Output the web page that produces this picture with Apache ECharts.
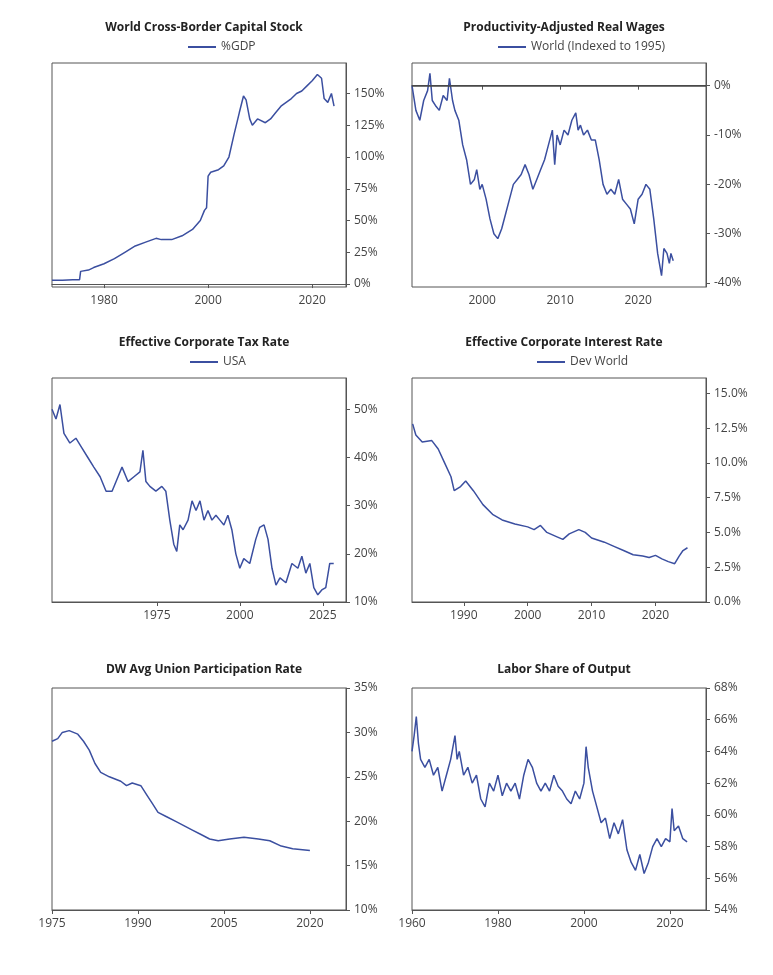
<!DOCTYPE html>
<html><head><meta charset="utf-8">
<script src="https://cdn.jsdelivr.net/npm/echarts@6/dist/echarts.min.js"></script>
<style>html,body{margin:0;background:#fff}#main{width:773px;height:975px}</style>
</head><body><div id="main"></div>
<script>
var capitalStock = [[1970,3],[1972,3],[1974,3.5],[1975.3,3.5],[1975.5,10],[1977,11],[1978,13],[1980,16],[1982,20],[1984,25],[1986,30],[1988,33],[1990,36],[1991,35],[1993,35],[1995,38],[1997,43],[1998.5,50],[1999.3,58],[1999.7,60],[2000,85],[2000.5,88],[2002,90],[2003,93],[2004,100],[2005,118],[2006,135],[2006.8,148],[2007.3,145],[2008,130],[2008.5,125],[2009.5,130],[2011,127],[2012,130],[2013,135],[2014,140],[2015,143],[2016,146],[2017,150],[2018,152],[2019,156],[2020,160],[2021,165],[2021.8,162],[2022.3,146],[2023,143],[2023.7,150],[2024.2,140]];
var realWages = [[1991,0],[1991.5,-5],[1992,-7],[1992.5,-3],[1993,-1],[1993.3,2.5],[1993.6,-3],[1994,-4],[1994.5,-5],[1995,-2],[1995.5,-3],[1995.8,1.5],[1996.2,-3],[1996.5,-5],[1997,-7],[1997.5,-12],[1998,-15],[1998.5,-20],[1999,-19],[1999.3,-17],[1999.7,-21],[2000,-20],[2000.5,-23],[2001,-27],[2001.5,-30],[2002,-31],[2002.5,-29],[2003,-26],[2003.5,-23],[2004,-20],[2004.5,-19],[2005,-18],[2005.5,-16],[2006,-18],[2006.5,-21],[2007,-19],[2007.5,-17],[2008,-15],[2008.5,-12],[2009,-9],[2009.3,-16],[2009.6,-10],[2010,-12],[2010.5,-9],[2011,-10],[2011.5,-7],[2012,-5.5],[2012.3,-9],[2012.6,-8],[2013,-10],[2013.5,-9],[2014,-11],[2014.5,-11],[2015,-15],[2015.5,-20],[2016,-22],[2016.5,-21],[2017,-22],[2017.5,-19],[2018,-23],[2018.5,-24],[2019,-25],[2019.5,-28],[2020,-23],[2020.5,-22],[2021,-20],[2021.5,-21],[2022,-27],[2022.5,-34],[2023,-38.5],[2023.3,-33],[2023.7,-34],[2024,-36],[2024.2,-34],[2024.5,-35.5]];
var taxRate = [[1943.4,50],[1944.6,48],[1945.8,51],[1947,45],[1948.8,43],[1950.6,44],[1952.4,42],[1954.2,40],[1956,38],[1957.9,36],[1959.7,33],[1961.5,33],[1963.3,36],[1964.5,38],[1966.3,35],[1968.1,36],[1969.9,37],[1970.8,41.5],[1971.7,35],[1972.9,34],[1974.7,33],[1976.5,34],[1977.7,33],[1978.9,27],[1980.1,22],[1981,20.5],[1981.9,26],[1982.9,25],[1984.4,27],[1985.6,31],[1986.8,29],[1988,31],[1989.2,27],[1990.4,29],[1991.6,27],[1992.8,28],[1994,27],[1995.2,26],[1996.4,28],[1997.6,25],[1998.8,20],[2000,17],[2001.2,19],[2003,18],[2004.8,23],[2006,25.5],[2007.3,26],[2008.5,23],[2009.7,17],[2010.9,13.5],[2012.1,15],[2013.9,14],[2015.7,18],[2017.5,17],[2018.7,19.5],[2019.9,16],[2021.1,18],[2022.3,13],[2023.5,11.5],[2024.7,12.5],[2025.9,13],[2027.1,18],[2028.3,18]];
var interestRate = [[1982,12.8],[1982.5,12],[1983.5,11.5],[1985,11.6],[1986,11],[1987,10],[1988,9],[1988.5,8],[1989.5,8.3],[1990.3,8.7],[1991.5,8],[1993,7],[1994.5,6.3],[1996,5.9],[1998,5.6],[2000,5.4],[2001,5.2],[2002,5.5],[2003,5],[2004.5,4.7],[2005.5,4.5],[2006.5,4.9],[2008,5.2],[2009,5],[2010,4.6],[2012,4.3],[2013.5,4],[2015,3.7],[2016.5,3.4],[2018,3.3],[2019,3.2],[2020,3.35],[2021,3.1],[2022,2.9],[2023,2.75],[2023.7,3.3],[2024.3,3.7],[2025,3.9]];
var unionRate = [[1975,29],[1976,29.3],[1976.8,30],[1978,30.2],[1979.5,29.8],[1980.5,29],[1981.5,28],[1982.5,26.5],[1983.5,25.5],[1985,25],[1987,24.5],[1988,24],[1989,24.3],[1990.5,24],[1991.5,23],[1992.5,22],[1993.5,21],[1995,20.5],[1996.5,20],[1998,19.5],[1999.5,19],[2001,18.5],[2002.5,18],[2004,17.8],[2006,18],[2008.5,18.2],[2011,18],[2013,17.8],[2015,17.2],[2017,16.9],[2020,16.7]];
var laborShare = [[1960,64],[1960.5,65],[1961,66.2],[1961.5,64.5],[1962,63.5],[1963,63],[1964,63.5],[1965,62.5],[1966,63],[1967,61.5],[1968,62.5],[1969,63.5],[1970,65],[1970.5,63.5],[1971,64],[1972,62.5],[1973,63],[1974,62],[1975,62.5],[1976,61],[1977,60.5],[1978,62],[1979,61.5],[1980,62.5],[1981,61.2],[1982,62],[1983,61.5],[1984,62],[1985,61],[1986,62.5],[1987,63.5],[1988,63],[1989,62],[1990,61.5],[1991,62],[1992,61.5],[1993,62.5],[1994,61.8],[1995,61.5],[1996,61],[1997,60.7],[1998,61.5],[1999,61],[2000,62],[2000.5,64.3],[2001,63],[2002,61.5],[2003,60.5],[2004,59.5],[2005,59.8],[2006,58.5],[2007,59.5],[2008,58.8],[2009,59.7],[2010,57.8],[2011,57],[2012,56.5],[2013,57.5],[2014,56.3],[2015,57],[2016,58],[2017,58.5],[2018,58],[2019,58.5],[2020,58.3],[2020.5,60.4],[2021,59],[2022,59.3],[2023,58.5],[2024,58.3]];

var panels = [
  {title:'World Cross-Border Capital Stock', name:'%GDP', data:capitalStock, x:[52,63], xr:[1970,2026.5], xt:[1980,2000,2020], yr:[-2.3,174], yt:[0,25,50,75,100,125,150], fmt:function(v){return v+'%';}, lg:183},
  {title:'Productivity-Adjusted Real Wages', name:'World (Indexed to 1995)', data:realWages, x:[412,63], xr:[1991,2028.7], xt:[2000,2010,2020], yr:[-40.8,4.6], yt:[-40,-30,-20,-10,0], fmt:function(v){return v+'%';}, lg:493, zero:true},
  {title:'Effective Corporate Tax Rate', name:'USA', data:taxRate, x:[52,378], xr:[1943.4,2032], xt:[1975,2000,2025], yr:[10,56.5], yt:[10,20,30,40,50], fmt:function(v){return v+'%';}, lg:185},
  {title:'Effective Corporate Interest Rate', name:'Dev World', data:interestRate, x:[412,378], xr:[1981.9,2027.9], xt:[1990,2000,2010,2020], yr:[0,16.1], yt:[0,2.5,5,7.5,10,12.5,15], fmt:function(v){return v.toFixed(1)+'%';}, lg:532},
  {title:'DW Avg Union Participation Rate', name:'union', data:unionRate, x:[52,688], xr:[1975,2026.3], xt:[1975,1990,2005,2020], yr:[10,35], yt:[10,15,20,25,30,35], fmt:function(v){return v+'%';}},
  {title:'Labor Share of Output', name:'labor', data:laborShare, x:[412,688], xr:[1960,2028.4], xt:[1960,1980,2000,2020], yr:[54,68], yt:[54,56,58,60,62,64,66,68], fmt:function(v){return v+'%';}}
];

var color = '#3b4fa0';
var grids = [], xAxes = [], yAxes = [], series = [], titles = [], legends = [];
panels.forEach(function (p, i) {
  var h = i < 4 ? 224 : 222;
  grids.push({left:p.x[0], top:p.x[1], width:294, height:h, show:true, borderColor:'#555', borderWidth:1});
  titles.push({text:p.title, left:p.x[0] + 147, top:p.x[1] - (i < 4 ? 46 : 29), textAlign:'center',
    textStyle:{fontFamily:'Open Sans', fontSize:12, fontWeight:'bold', color:'#222'}});
  if (i < 4) {
    legends.push({data:[p.name], left:p.lg, top:p.x[1] - 27, itemWidth:28, itemHeight:2, itemGap:4, icon:'rect',
      textStyle:{fontFamily:'Open Sans', fontSize:12, color:'#444'}});
  }
  xAxes.push({type:'value', gridIndex:i, min:p.xr[0], max:p.xr[1], splitLine:{show:false},
    axisLine:{lineStyle:{color:'#555'}}, axisTick:{customValues:p.xt, length:4, lineStyle:{color:'#555'}},
    axisLabel:{customValues:p.xt, formatter:function(v){return String(v);}, color:'#444', fontFamily:'Open Sans', fontSize:12, margin:8}});
  yAxes.push({type:'value', gridIndex:i, position:'right', min:p.yr[0], max:p.yr[1], splitLine:{show:false},
    axisLine:{show:true, lineStyle:{color:'#555'}}, axisTick:{show:true, customValues:p.yt, length:4, lineStyle:{color:'#555'}},
    axisLabel:{customValues:p.yt, formatter:p.fmt, color:'#444', fontFamily:'Open Sans', fontSize:12, margin:8}});
  var s = {type:'line', name:p.name, xAxisIndex:i, yAxisIndex:i, data:p.data, showSymbol:false,
    lineStyle:{color:color, width:1.5}, itemStyle:{color:color}};
  if (p.zero) {
    s.markLine = {silent:true, symbol:'none', label:{show:false}, lineStyle:{color:'#444', type:'solid', width:1.5}, data:[{yAxis:0}]};
  }
  series.push(s);
});

var myChart = echarts.init(document.getElementById('main'));
myChart.setOption({
  animation:false, backgroundColor:'#fff', title:titles, legend:legends,
  grid:grids, xAxis:xAxes, yAxis:yAxes, series:series
});
</script></body></html>
